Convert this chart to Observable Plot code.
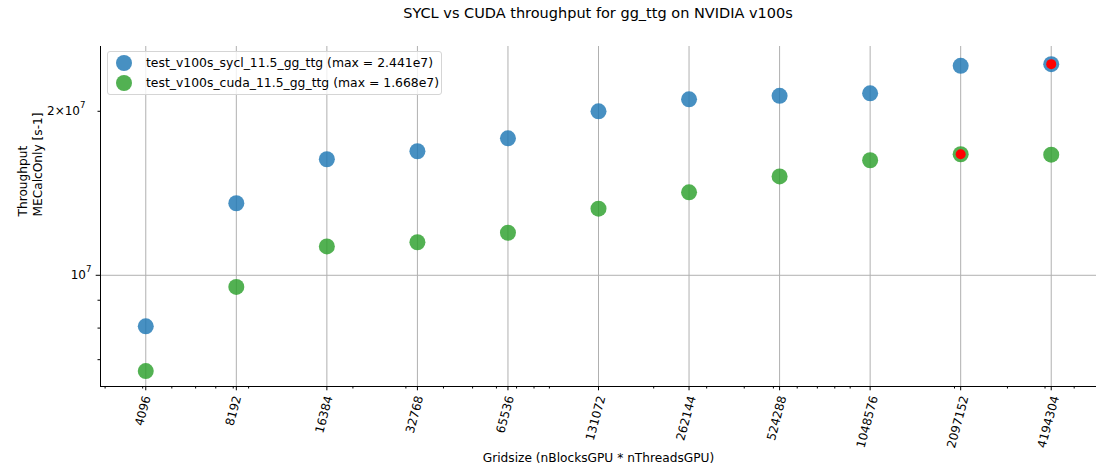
<!DOCTYPE html>
<html>
<head>
<meta charset="utf-8">
<script src="https://cdn.jsdelivr.net/npm/d3@7"></script>
<script src="https://cdn.jsdelivr.net/npm/@observablehq/plot@0.6"></script>
<style>
  html, body { margin: 0; padding: 0; background: #fff; }
  body { width: 1105px; height: 471px; position: relative; overflow: hidden; font-family: "DejaVu Sans", sans-serif; }
  #title { position: absolute; left: 100px; width: 996px; top: 5px; text-align: center; font-size: 14.5px; color: #000; }
  #legend { position: absolute; left: 107px; top: 51px; width: 333px; height: 42px; border: 1px solid #d5d5d5; border-radius: 3px; background: rgba(255,255,255,0.8); font-size: 12.4px; color: #000; }
  .row { position: absolute; left: 0; height: 18px; line-height: 18px; white-space: nowrap; }
  .sw { position: absolute; left: 8px; top: 1px; width: 16px; height: 16px; border-radius: 50%; }
  .lab { position: absolute; left: 38px; top: 0; }
</style>
</head>
<body>
<div id="chart"></div>
<div id="title">SYCL vs CUDA throughput for gg_ttg on NVIDIA v100s</div>
<div id="legend"></div>
<script>
// ---- data ----
const gridSizes = [4096, 8192, 16384, 32768, 65536, 131072, 262144, 524288, 1048576, 2097152, 4194304];
const syclThroughput = [8.06e6, 1.356e7, 1.633e7, 1.689e7, 1.784e7, 2.0e7, 2.104e7, 2.135e7, 2.158e7, 2.424e7, 2.441e7];
const cudaThroughput = [6.67e6, 9.52e6, 1.130e7, 1.150e7, 1.197e7, 1.325e7, 1.420e7, 1.519e7, 1.626e7, 1.668e7, 1.665e7];
const seriesNames = ["test_v100s_sycl_11.5_gg_ttg", "test_v100s_cuda_11.5_gg_ttg"];
const seriesColors = ["#1f77b4", "#2ca02c"];
const xMinorTicks = [3000, 4000, 5000, 6000, 7000, 8000, 9000,
  20000, 30000, 40000, 50000, 60000, 70000, 80000, 90000,
  200000, 300000, 400000, 500000, 600000, 700000, 800000, 900000,
  2000000, 3000000, 4000000, 5000000];
const yMajorTicks = [1e7];
const yMinorTicks = [7e6, 8e6, 9e6, 2e7];
const yTickLabels = [{v: 1e7, base: "10", exp: "7"}, {v: 2e7, base: "2×10", exp: "7"}];
const yLabel = "Throughput\nMECalcOnly [s-1]";
const xLabel = "Gridsize (nBlocksGPU * nThreadsGPU)";

// ---- build ----
const allValues = [
  ...gridSizes.map((g, i) => ({series: 0, x: g, y: syclThroughput[i]})),
  ...gridSizes.map((g, i) => ({series: 1, x: g, y: cudaThroughput[i]}))
];
const maxPoints = [syclThroughput, cudaThroughput].map((arr, s) => {
  const i = d3.maxIndex(arr);
  return {series: s, x: gridSizes[i], y: arr[i]};
});

const xDomain = [gridSizes[0] / Math.SQRT2, gridSizes[gridSizes.length - 1] * Math.SQRT2];
const yDomain = [6.25e6, 2.63e7];
const minorX = xMinorTicks.filter(t => t > xDomain[0] && t < xDomain[1]);

const tickFont = 12;
const labelMarks = [4, 5, 6, 7].map(n => {
  const L = n * 0.636 * tickFont;
  return Plot.text(gridSizes.filter(g => String(g).length === n), {
    x: d => d, frameAnchor: "bottom", text: d => String(d),
    textAnchor: "end", rotate: -75, dy: 10.5, dx: 0.1295 * L + 1,
    fontSize: tickFont, fill: "#000"
  });
});

const plot = Plot.plot({
  width: 1105,
  height: 471,
  marginLeft: 100,
  marginRight: 9,
  marginTop: 46,
  marginBottom: 85,
  style: {fontFamily: "DejaVu Sans", fontSize: "12px", background: "#fff", color: "#000"},
  x: {type: "log", base: 2, domain: xDomain},
  y: {type: "log", domain: yDomain},
  marks: [
    Plot.gridX(gridSizes, {stroke: "#b0b0b0", strokeOpacity: 1, strokeWidth: 1}),
    Plot.gridY(yMajorTicks, {stroke: "#b0b0b0", strokeOpacity: 1, strokeWidth: 1}),
    Plot.axisX({ticks: gridSizes, tickSize: 4.3, tickFormat: () => "", label: null, stroke: "#000"}),
    Plot.axisX({ticks: minorX, tickSize: 2.5, tickFormat: () => "", label: null, stroke: "#000"}),
    Plot.axisY({ticks: yMajorTicks, tickSize: 4.3, tickFormat: () => "", label: null, stroke: "#000"}),
    Plot.axisY({ticks: yMinorTicks, tickSize: 2.5, tickFormat: () => "", label: null, stroke: "#000"}),
    Plot.ruleX([xDomain[0]], {stroke: "#000", strokeWidth: 1}),
    Plot.ruleY([yDomain[0]], {stroke: "#000", strokeWidth: 1}),
    ...labelMarks,
    Plot.text(yTickLabels, {y: "v", frameAnchor: "left", text: "base", textAnchor: "end", dx: -14.5, fontSize: 12, fill: "#000",
      filter: d => d.v === 1e7}),
    Plot.text(yTickLabels, {y: "v", frameAnchor: "left", text: "exp", textAnchor: "end", dx: -9, dy: -6, fontSize: 8.6, fill: "#000",
      filter: d => d.v === 1e7}),
    Plot.text(yTickLabels, {y: "v", frameAnchor: "left", text: "base", textAnchor: "end", dx: -20.5, fontSize: 12, fill: "#000",
      filter: d => d.v === 2e7}),
    Plot.text(yTickLabels, {y: "v", frameAnchor: "left", text: "exp", textAnchor: "end", dx: -15, dy: -6, fontSize: 8.6, fill: "#000",
      filter: d => d.v === 2e7}),
    Plot.text([yLabel], {frameAnchor: "left", text: d => d, rotate: -90, dx: -70.5, lineHeight: 1.17, fontSize: 12.2, fill: "#000"}),
    Plot.text([xLabel], {frameAnchor: "bottom", text: d => d, dy: 75, fontSize: 12.2, fill: "#000"}),
    Plot.dot(allValues, {x: "x", y: "y", r: 8, fill: d => seriesColors[d.series], fillOpacity: 0.82, stroke: "none"}),
    Plot.dot(maxPoints, {x: "x", y: "y", r: 5, fill: "red", stroke: "none"})
  ]
});
document.getElementById("chart").appendChild(plot);

// legend
const fmt = v => v.toExponential(3).replace("e+", "e");
const legend = document.getElementById("legend");
[syclThroughput, cudaThroughput].forEach((arr, s) => {
  const row = document.createElement("div");
  row.className = "row";
  row.style.top = (2 + s * 20) + "px";
  row.style.width = "100%";
  const sw = document.createElement("div");
  sw.className = "sw";
  sw.style.background = seriesColors[s];
  sw.style.opacity = 0.82;
  const lab = document.createElement("div");
  lab.className = "lab";
  lab.textContent = `${seriesNames[s]} (max = ${fmt(d3.max(arr))})`;
  row.appendChild(sw);
  row.appendChild(lab);
  legend.appendChild(row);
});
</script>
</body>
</html>
